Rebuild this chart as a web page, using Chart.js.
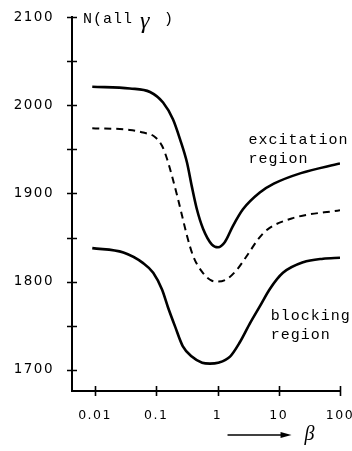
<!DOCTYPE html>
<html>
<head>
<meta charset="utf-8">
<script src="https://cdn.jsdelivr.net/npm/chart.js@4.4.1/dist/chart.umd.min.js"></script>
<style>
  html, body { margin: 0; padding: 0; background: #fff; }
  #wrap { width: 352px; height: 451px; }
</style>
</head>
<body>
<div id="wrap"><canvas id="chart"></canvas></div>
<script>
/* ---------- data ---------- */
const betaTicks  = [0.01, 0.1, 1, 10, 100];
const betaLabels = ['0.01', '0.1', '1', '10', '100'];
const countTicks = [1700, 1750, 1800, 1850, 1900, 1950, 2000, 2050, 2100];

const excitationBeta  = [0.009, 0.037, 0.079, 0.129, 0.187, 0.245, 0.317, 0.38, 0.46, 0.58, 0.81, 1.02, 1.32, 1.78, 2.6, 4.9, 8.3, 23, 100];
const excitationCount = [2021, 2019, 2015, 2003, 1984, 1961, 1935, 1908, 1882, 1860, 1842, 1839, 1845, 1863, 1882, 1901, 1911, 1923, 1934];

const allBeta  = [0.009, 0.037, 0.061, 0.095, 0.124, 0.15, 0.18, 0.22, 0.265, 0.317, 0.40, 0.56, 0.81, 1.02, 1.43, 2.1, 3.0, 4.6, 6.5, 17, 100];
const allCount = [1974, 1972, 1969, 1964, 1954, 1939, 1920, 1897, 1874, 1852, 1829, 1811, 1801, 1800, 1803, 1814, 1829, 1848, 1859, 1872, 1881];

const blockingBeta  = [0.009, 0.029, 0.061, 0.089, 0.124, 0.155, 0.203, 0.27, 0.38, 0.56, 0.75, 1.02, 1.6, 2.3, 3.4, 4.9, 7.2, 11.7, 25, 53, 100];
const blockingCount = [1838, 1833, 1821, 1810, 1791, 1771, 1749, 1727, 1715, 1708, 1707, 1708, 1715, 1731, 1753, 1772, 1792, 1810, 1822, 1826, 1827];

const toXY = (xs, ys) => xs.map((x, i) => ({ x, y: ys[i] }));

/* ---------- text labels ---------- */
const MONO  = '15px "Liberation Mono", "DejaVu Sans Mono", monospace';
const SERIF = 'italic 20px "Liberation Serif", "DejaVu Serif", serif';

const regionLabels = [
  { lines: ['excitation', 'region'], beta: 3.2, count: 1961 },
  { lines: ['blocking', 'region'],   beta: 7.4, count: 1761 },
];

/* crossing tick marks, axis text and the beta arrow */
const figurePlugin = {
  id: 'figure',
  beforeDraw(chart) {
    chart.ctx.letterSpacing = '1.5px';
  },
  afterDraw(chart) {
    const { ctx, chartArea: a, scales: { x, y } } = chart;
    ctx.save();
    ctx.strokeStyle = '#000';
    ctx.fillStyle = '#000';

    /* tick marks crossing the axes */
    ctx.lineWidth = 1.6;
    ctx.beginPath();
    countTicks.forEach(v => {
      const py = Math.round(y.getPixelForValue(v)) + 0.5;
      ctx.moveTo(a.left - 5, py);
      ctx.lineTo(a.left + 5, py);
    });
    betaTicks.forEach(v => {
      const px = Math.round(x.getPixelForValue(v)) + 0.5;
      ctx.moveTo(px, a.bottom - 5);
      ctx.lineTo(px, a.bottom + 5);
    });
    ctx.stroke();

    /* axis title N(all γ) */
    ctx.letterSpacing = '1px';
    ctx.textBaseline = 'middle';
    ctx.textAlign = 'left';
    const ty = y.getPixelForValue(2100) + 2;
    ctx.font = MONO;
    ctx.fillText('N(all', a.left + 11, ty);
    ctx.font = 'italic 24px "Liberation Serif", "DejaVu Serif", serif';
    ctx.fillText('\u03b3', a.left + 68, ty + 3);
    ctx.font = MONO;
    ctx.fillText(')', a.left + 92, ty);

    /* region labels */
    ctx.font = MONO;
    regionLabels.forEach(l => {
      const px = x.getPixelForValue(l.beta);
      const py = y.getPixelForValue(l.count);
      l.lines.forEach((t, i) => ctx.fillText(t, px, py + i * 19));
    });

    /* arrow  ---->  β */
    const ay = a.bottom + 44;
    const ax0 = x.getPixelForValue(1) + 10;
    const ax1 = ax0 + 64;
    ctx.lineWidth = 1.3;
    ctx.beginPath();
    ctx.moveTo(ax0, ay);
    ctx.lineTo(ax1 - 8, ay);
    ctx.stroke();
    ctx.beginPath();
    ctx.moveTo(ax1, ay);
    ctx.lineTo(ax1 - 11, ay - 3);
    ctx.lineTo(ax1 - 11, ay + 3);
    ctx.closePath();
    ctx.fill();
    ctx.letterSpacing = '0px';
    ctx.font = SERIF;
    ctx.fillText('\u03b2', ax1 + 13, ay);
    ctx.restore();
  }
};

const lineStyle = {
  borderColor: '#000',
  backgroundColor: '#000',
  pointRadius: 0,
  fill: false,
  cubicInterpolationMode: 'monotone',
};

new Chart(document.getElementById('chart').getContext('2d'), {
  type: 'line',
  data: {
    datasets: [
      { ...lineStyle, label: 'excitation region', data: toXY(excitationBeta, excitationCount), borderWidth: 2.6 },
      { ...lineStyle, label: 'all', data: toXY(allBeta, allCount), borderWidth: 2, borderDash: [7, 5] },
      { ...lineStyle, label: 'blocking region', data: toXY(blockingBeta, blockingCount), borderWidth: 2.6 },
    ],
  },
  options: {
    responsive: true,
    maintainAspectRatio: false,
    animation: false,
    layout: { padding: { top: 17, right: 12, left: 0, bottom: 0 } },
    plugins: {
      legend:  { display: false },
      tooltip: { enabled: false },
    },
    scales: {
      x: {
        type: 'logarithmic',
        min: 0.0042,
        max: 100,
        afterBuildTicks: s => { s.ticks = betaTicks.map(v => ({ value: v })); },
        afterFit: s => { s.height = 60; s.paddingLeft = 0; s.paddingRight = 0; },
        ticks: {
          color: '#000',
          font: { family: '"DejaVu Sans", sans-serif', size: 12.5 },
          padding: 17,
          maxRotation: 0,
          autoSkip: false,
          callback: v => betaLabels[betaTicks.indexOf(v)] ?? '',
        },
        grid:   { display: false, drawTicks: false },
        border: { display: true, color: '#000', width: 2 },
      },
      y: {
        min: 1676,
        max: 2100,
        afterBuildTicks: s => { s.ticks = countTicks.map(v => ({ value: v })); },
        afterFit: s => { s.width = 72; s.paddingTop = 0; s.paddingBottom = 0; },
        ticks: {
          color: '#000',
          font: { family: '"DejaVu Sans", sans-serif', size: 13.5 },
          padding: 18,
          autoSkip: false,
          callback: v => (v % 100 === 0 ? String(v) : ''),
        },
        grid:   { display: false, drawTicks: false },
        border: { display: true, color: '#000', width: 2 },
      },
    },
  },
  plugins: [figurePlugin],
});
</script>
</body>
</html>
